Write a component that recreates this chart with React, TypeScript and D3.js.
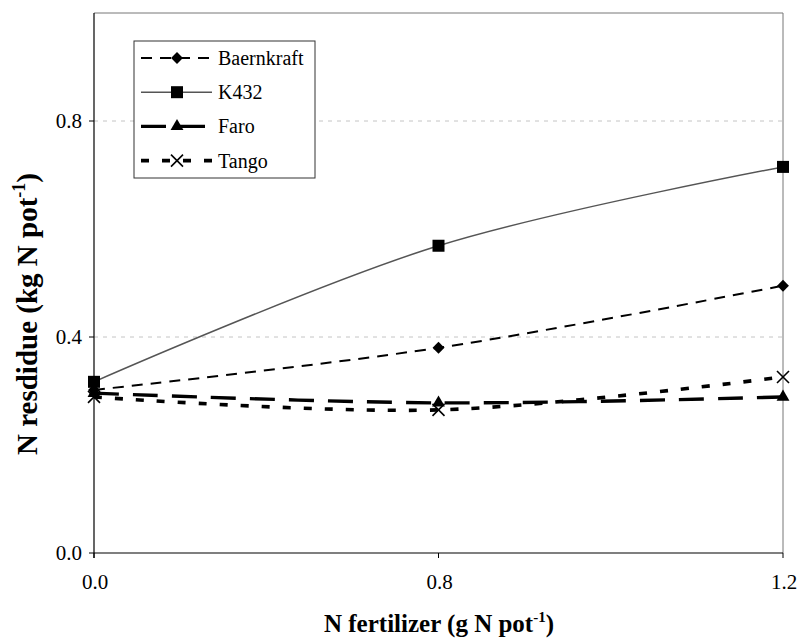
import React from "react";
import * as d3 from "d3";

const categories = ["0.0", "0.8", "1.2"];
const yTicks = [0, 0.4, 0.8];
const baernkraft = [0.302, 0.38, 0.495];
const k432 = [0.317, 0.569, 0.715];
const faro = [0.296, 0.278, 0.289];
const tango = [0.289, 0.265, 0.326];

const W = 797, H = 639;
const left = 94, right = 783, top = 13, bottom = 553;
const font = "'Liberation Serif', 'Times New Roman', Times, serif";

const series = [
  { name: "Baernkraft", values: baernkraft, stroke: "#000", width: 2, dash: "11,8", marker: "diamond" },
  { name: "K432", values: k432, stroke: "#555", width: 1.5, dash: null, marker: "square" },
  { name: "Faro", values: faro, stroke: "#000", width: 3.4, dash: "25,14", marker: "triangle" },
  { name: "Tango", values: tango, stroke: "#000", width: 3.6, dash: "8,13", marker: "cross" },
];

function Marker({ type, x, y }: { type: string; x: number; y: number }) {
  if (type === "diamond") {
    const s = d3.symbol().type(d3.symbolDiamond2).size(90)();
    return <path d={s || ""} transform={`translate(${x},${y})`} fill="#000" />;
  }
  if (type === "square") return <rect x={x - 6} y={y - 6} width={12} height={12} fill="#000" />;
  if (type === "triangle") {
    const s = d3.symbol().type(d3.symbolTriangle).size(72)();
    return <path d={s || ""} transform={`translate(${x},${y})`} fill="#000" />;
  }
  return (
    <g stroke="#000" strokeWidth={1.6}>
      <line x1={x - 6} y1={y - 6} x2={x + 6} y2={y + 6} />
      <line x1={x - 6} y1={y + 6} x2={x + 6} y2={y - 6} />
    </g>
  );
}

export default function App() {
  const x = d3.scalePoint().domain(categories).range([left, right]);
  const y = d3.scaleLinear().domain([0, 1]).range([bottom, top]);
  const line = d3
    .line<number>()
    .x((_, i) => x(categories[i]) as number)
    .y((d) => y(d))
    .curve(d3.curveCatmullRom.alpha(0.5));

  const legX = 134, legY = 41, legW = 181, legH = 137;
  const tf = { fontFamily: font };

  return (
    <svg width={W} height={H} style={{ position: "absolute", left: 0, top: 0, background: "#fff" }}>
      {/* grid */}
      {yTicks.filter((t) => t > 0).map((t) => (
        <line key={t} x1={left} x2={right} y1={y(t)} y2={y(t)} stroke="#c4c4c4" strokeDasharray="4,5" />
      ))}
      {/* frame */}
      <line x1={left} x2={right} y1={top} y2={top} stroke="#777" strokeWidth={1} />
      <line x1={right} x2={right} y1={top} y2={bottom} stroke="#777" strokeWidth={1} />
      <line x1={left} x2={left} y1={top} y2={bottom + 5} stroke="#000" strokeWidth={1.2} />
      <line x1={left} x2={right} y1={bottom} y2={bottom} stroke="#000" strokeWidth={1.2} />
      {yTicks.map((t) => (
        <g key={t}>
          <line x1={left - 5} x2={left} y1={y(t)} y2={y(t)} stroke="#000" />
          <text x={82} y={y(t) + 7} textAnchor="end" fontSize={21} style={tf}>{t.toFixed(1)}</text>
        </g>
      ))}
      {categories.map((c) => (
        <g key={c}>
          <line x1={x(c)} x2={x(c)} y1={bottom} y2={bottom + 5} stroke="#000" />
          <text x={(x(c) as number) + 1} y={589} textAnchor="middle" fontSize={21} style={tf}>{c}</text>
        </g>
      ))}
      {/* series */}
      {series.map((s) => (
        <g key={s.name}>
          <path d={line(s.values) || ""} fill="none" stroke={s.stroke} strokeWidth={s.width}
            strokeDasharray={s.dash || undefined} />
          {s.values.map((v, i) => (
            <Marker key={i} type={s.marker} x={x(categories[i]) as number} y={y(v)} />
          ))}
        </g>
      ))}
      {/* legend */}
      <rect x={legX} y={legY} width={legW} height={legH} fill="#fff" stroke="#333" strokeWidth={1} />
      {series.map((s, i) => {
        const ly = 58 + i * 34.2;
        return (
          <g key={s.name}>
            <line x1={141} x2={212} y1={ly} y2={ly} stroke={s.stroke} strokeWidth={s.width}
              strokeDasharray={s.dash || undefined} />
            <Marker type={s.marker} x={177} y={ly} />
            <text x={218} y={ly + 7} fontSize={20} style={tf}>{s.name}</text>
          </g>
        );
      })}
      {/* axis titles */}
      <text x={439} y={632} textAnchor="middle" fontSize={25} fontWeight="bold" style={tf}>
        N fertilizer (g N pot<tspan dy={-10} fontSize={15}>-1</tspan><tspan dy={10}>)</tspan>
      </text>
      <text transform={`translate(37,314) rotate(-90)`} textAnchor="middle" fontSize={29} fontWeight="bold" style={tf}>
        N resdidue (kg N pot<tspan dy={-12} fontSize={18}>-1</tspan><tspan dy={12}>)</tspan>
      </text>
    </svg>
  );
}
